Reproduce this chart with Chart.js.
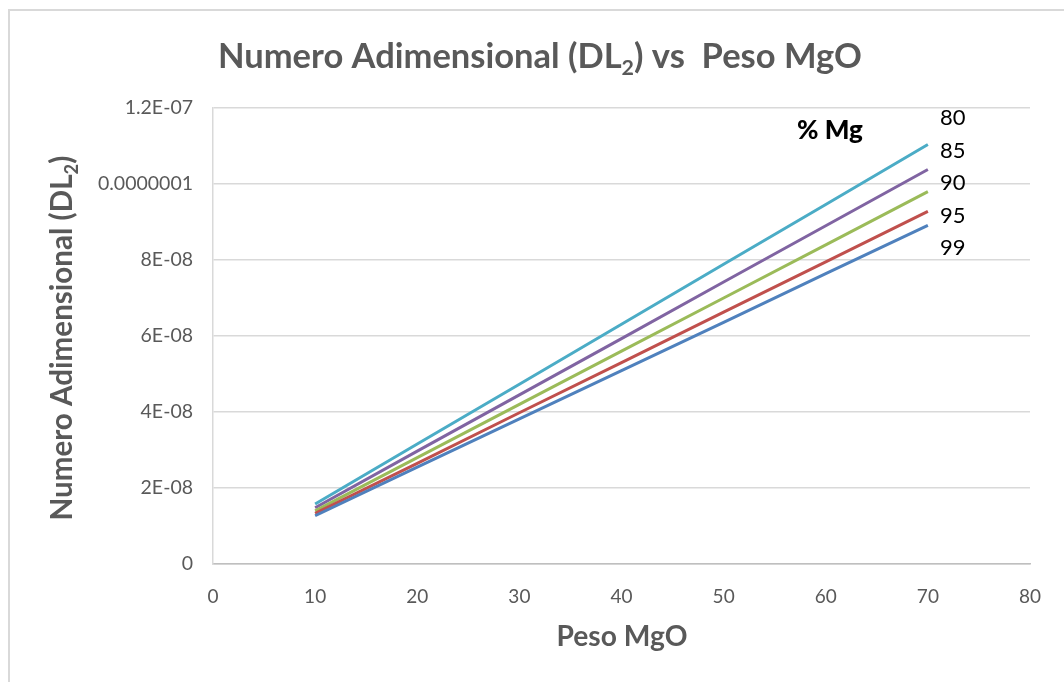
<!DOCTYPE html>
<html>
<head>
<meta charset="utf-8">
<script src="https://cdn.jsdelivr.net/npm/chart.js@4"></script>
<style>
  html, body { margin: 0; padding: 0; background: #fff; }
  #wrap { position: relative; width: 1064px; height: 682px; overflow: hidden; }
  #frame { position: absolute; left: 8px; top: 9px; width: 1200px; height: 800px;
           border-left: 2px solid #d9d9d9; border-top: 2px solid #d9d9d9; }
  canvas { position: absolute; left: 0; top: 0; }
</style>
</head>
<body>
<div id="wrap">
  <div id="frame"></div>
  <canvas id="chart" width="1064" height="682"></canvas>
</div>
<script>
/* global Chart */

// Peso MgO
const pesoMgO = [10, 20, 30, 40, 50, 60, 70];

// Numero adimensional DL2 for each % Mg
const dl80 = [1.58e-8, 3.16e-8, 4.73e-8, 6.31e-8, 7.89e-8, 9.46e-8, 1.104e-7];
const dl85 = [1.48e-8, 2.97e-8, 4.45e-8, 5.93e-8, 7.42e-8, 8.90e-8, 1.038e-7];
const dl90 = [1.40e-8, 2.80e-8, 4.20e-8, 5.60e-8, 7.00e-8, 8.40e-8, 9.80e-8];
const dl95 = [1.33e-8, 2.65e-8, 3.98e-8, 5.30e-8, 6.63e-8, 7.95e-8, 9.28e-8];
const dl99 = [1.27e-8, 2.55e-8, 3.82e-8, 5.09e-8, 6.36e-8, 7.64e-8, 8.91e-8];

const seriesNames = ['80', '85', '90', '95', '99'];
const yTickValues = [0, 2e-8, 4e-8, 6e-8, 8e-8, 1e-7, 1.2e-7];
const yTickLabels = ['0', '2E-08', '4E-08', '6E-08', '8E-08', '0.0000001', '1.2E-07'];

const FONT = "Lato, 'Open Sans', sans-serif";
const GREY = '#595959';

const toPoints = arr => arr.map((v, i) => ({ x: pesoMgO[i], y: v }));

function ds(label, data, color) {
    return {
        label: label,
        data: toPoints(data),
        borderColor: color,
        backgroundColor: color,
        borderWidth: 3,
        pointRadius: 0,
        tension: 0,
        fill: false,
    };
}

// bold text with a subscript piece, scaled to a given width and centred on x
// parts = [[text, isSub], ...]
function drawRich(ctx, parts, width, x, y) {
    const measure = size => parts.reduce((w, p) => {
        ctx.font = 'bold ' + (p[1] ? size * 0.62 : size) + 'px ' + FONT;
        return w + ctx.measureText(p[0]).width;
    }, 0);
    const size = 20 * width / measure(20);
    let cx = x - width / 2;
    ctx.textAlign = 'left';
    ctx.textBaseline = 'alphabetic';
    parts.forEach(p => {
        ctx.font = 'bold ' + (p[1] ? size * 0.62 : size) + 'px ' + FONT;
        ctx.fillText(p[0], cx, p[1] ? y + size * 0.2 : y);
        cx += ctx.measureText(p[0]).width;
    });
}

const annotations = {
    id: 'annotations',
    afterDraw(chart) {
        const ctx = chart.ctx;
        const area = chart.chartArea;
        ctx.save();
        ctx.fillStyle = GREY;

        // chart title
        drawRich(ctx, [['Numero Adimensional (DL', false], ['2', true], [') vs  Peso MgO', false]],
            644, 540, 68);

        // x axis title
        drawRich(ctx, [['Peso MgO', false]], 131, 622, 646);

        // y axis title
        ctx.save();
        ctx.translate(72, 338);
        ctx.rotate(-Math.PI / 2);
        drawRich(ctx, [['Numero Adimensional (DL', false], ['2', true], [')', false]], 365, 0, 0);
        ctx.restore();

        // % Mg caption and series names
        ctx.fillStyle = '#000';
        ctx.textAlign = 'left';
        ctx.textBaseline = 'middle';
        ctx.font = '900 26px ' + FONT;
        ctx.fillText('% Mg', area.right - 233, 131);
        ctx.font = '22px ' + FONT;
        seriesNames.forEach((name, i) => {
            ctx.fillText(name, area.right - 90, 118 + i * 32.5);
        });
        ctx.restore();
    },
};

new Chart(document.getElementById('chart').getContext('2d'), {
    type: 'line',
    data: {
        datasets: [
            ds('99', dl99, '#4F81BD'),
            ds('95', dl95, '#C0504D'),
            ds('90', dl90, '#9BBB59'),
            ds('85', dl85, '#8064A2'),
            ds('80', dl80, '#4BACC6'),
        ],
    },
    options: {
        responsive: false,
        animation: false,
        layout: { padding: { left: 0, top: 108, right: 34, bottom: 68 } },
        plugins: {
            legend: { display: false },
            tooltip: { enabled: false },
        },
        scales: {
            x: {
                type: 'linear',
                min: 0,
                max: 80,
                ticks: { stepSize: 10, color: GREY, font: { family: FONT, size: 19 }, padding: 21 },
                grid: { display: false, drawTicks: false },
                border: { color: '#bfbfbf', width: 1.5 },
                afterFit(scale) { scale.height = 50; },
            },
            y: {
                min: 0,
                max: 1.2e-7,
                afterBuildTicks(scale) { scale.ticks = yTickValues.map(v => ({ value: v })); },
                ticks: {
                    color: GREY,
                    font: { family: FONT, size: 19.5 },
                    padding: 20,
                    callback: (v, i) => yTickLabels[i],
                },
                grid: { color: '#d9d9d9', lineWidth: 1.5, drawTicks: false },
                border: { color: '#d9d9d9', width: 1.5 },
                afterFit(scale) { scale.width = 213; },
            },
        },
    },
    plugins: [annotations],
});
</script>
</body>
</html>
